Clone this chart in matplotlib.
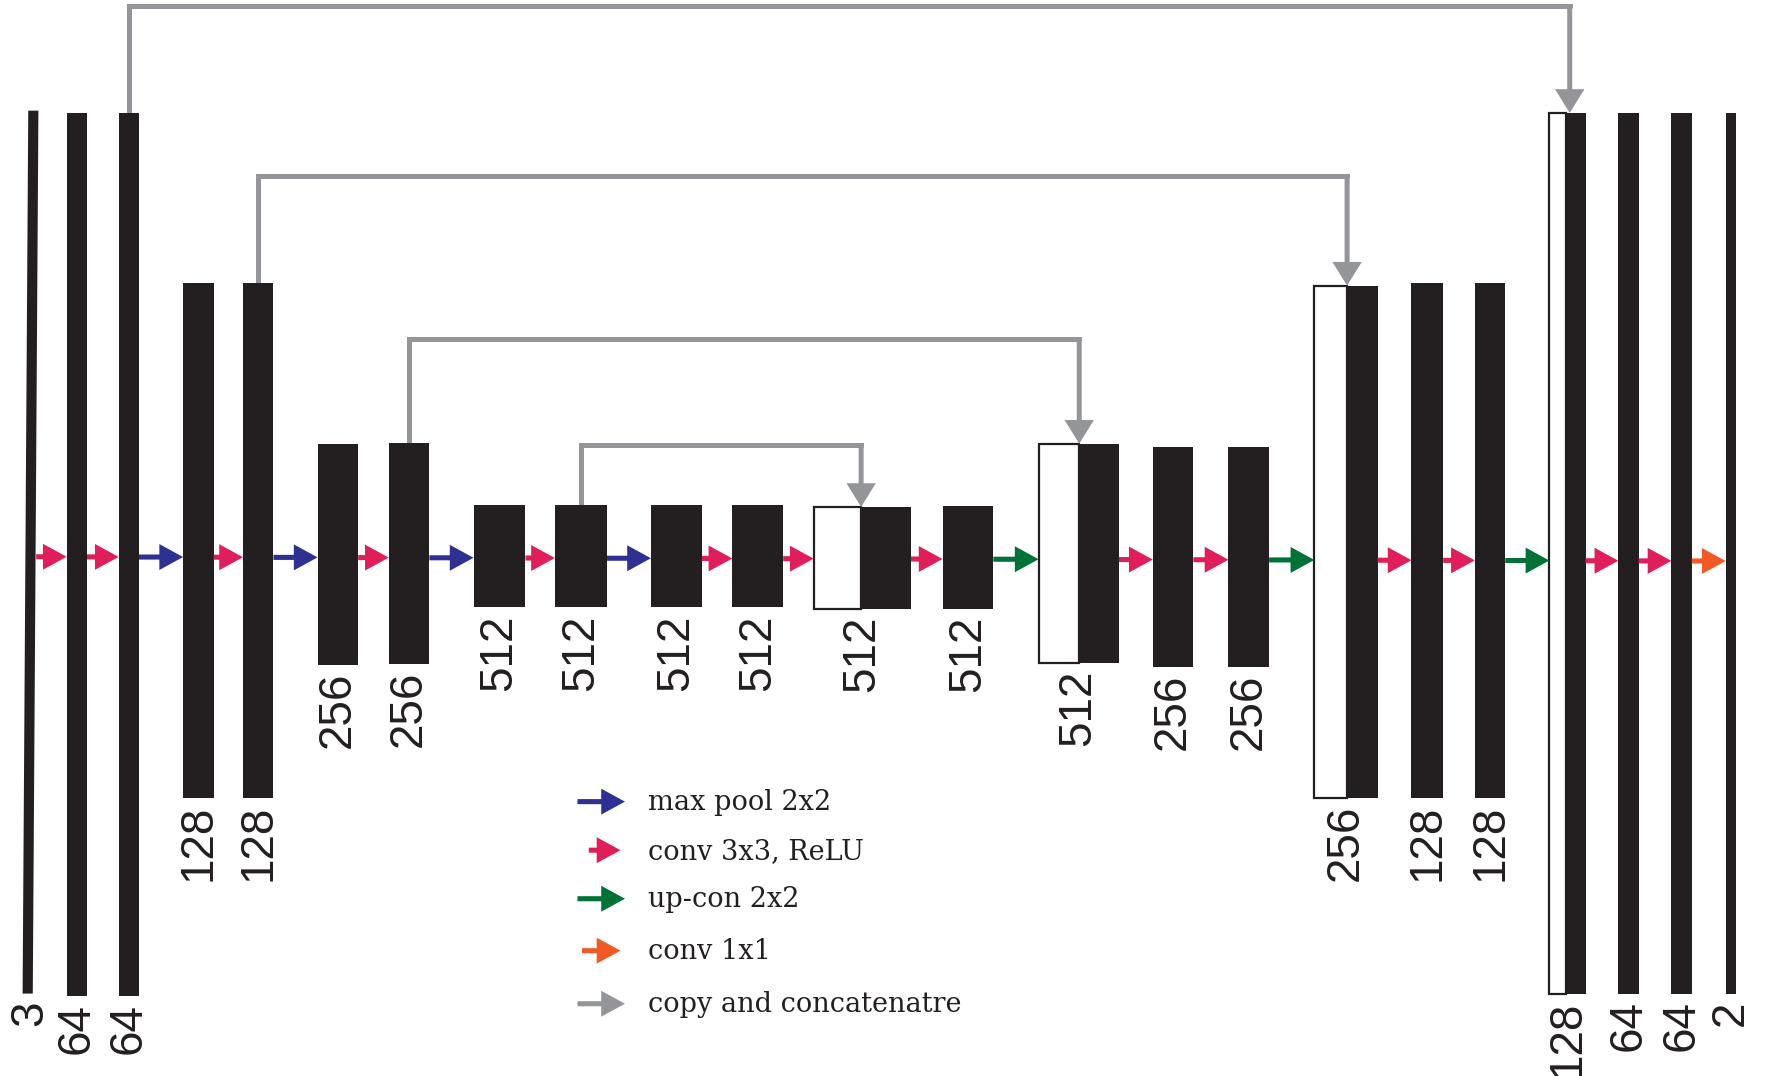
import matplotlib
matplotlib.use("Agg")
import matplotlib.pyplot as plt
import matplotlib.patches as mpatches

# 채널 수 (블록 아래 라벨)
channels = ['3', '64', '64', '128', '128', '256', '256',
            '512', '512', '512', '512', '512', '512',
            '512', '256', '256', '256', '128', '128',
            '128', '64', '64', '2']

# 블록 사이 연산 종류
ops = ['conv', 'conv', 'pool', 'conv', 'pool', 'conv', 'pool', 'conv', 'pool',
       'conv', 'conv', 'conv', 'up', 'conv', 'conv', 'up', 'conv', 'conv', 'up',
       'conv', 'conv', 'conv1']

# skip connection (출발 블록, 도착 블록)
skips = [(2, 19), (4, 16), (6, 13), (8, 11)]

legend_ops = ['pool', 'conv', 'up', 'conv1', 'copy']
legend_text = ['max pool 2x2', 'conv 3x3, ReLU', 'up-con 2x2', 'conv 1x1',
               'copy and concatenatre']

# 레이아웃 (x 시작, 흰 부분 폭, 검은 부분 폭, 위, 아래)
blocks = [
    (25, 0, 9, 98, 880), (59, 0, 18, 100, 882), (105, 0, 18, 100, 882),
    (162, 0, 27, 251, 707), (215, 0, 27, 251, 707),
    (281, 0, 36, 393, 589), (344, 0, 36, 392, 588),
    (419, 0, 46, 447, 538), (491, 0, 46, 447, 538),
    (576, 0, 45, 447, 538), (648, 0, 45, 447, 538),
    (720, 42, 44, 449, 539), (834, 0, 45, 448, 539),
    (919, 36, 35, 393, 587), (1020, 0, 36, 396, 591), (1087, 0, 36, 396, 591),
    (1163, 29, 27, 253, 707), (1249, 0, 28, 251, 707), (1305, 0, 27, 251, 707),
    (1371, 15, 17, 100, 880), (1432, 0, 18, 100, 880), (1479, 0, 18, 100, 880),
    (1527, 0, 9, 100, 880),
]
skip_levels = [5, 156, 300, 394]

colors = {'pool': '#2e3192', 'conv': '#e01e5a', 'up': '#007236',
          'conv1': '#f15a24', 'copy': '#939598'}
bar_color = '#231f20'


def mid_y(x):
    # 가운데 화살표 줄이 오른쪽으로 갈수록 살짝 내려감
    return 493 + 4 * x / 1560


fig = plt.figure(figsize=(17.72, 10.76), dpi=100)
ax = fig.add_axes([0, 0, 1, 1])
ax.set_xlim(0, 1568)
ax.set_ylim(953, 0)
ax.axis('off')

label_font = ['Liberation Sans Narrow', 'Liberation Sans', 'DejaVu Sans']

for i, (x0, ww, bw, top, bot) in enumerate(blocks):
    h = bot - top
    if i == 0:
        # 입력 블록은 약간 기울어져 있음
        ax.add_patch(mpatches.Polygon([(x0, top), (x0 + bw, top), (x0 + bw - 5, bot),
                                       (x0 - 5, bot)], closed=True,
                                      facecolor=bar_color, edgecolor='none', zorder=3))
        cx = x0 - 3 + bw / 2
    else:
        if ww > 0:
            ax.add_patch(mpatches.Rectangle((x0, top), ww, h, facecolor='white',
                                            edgecolor=bar_color, linewidth=1.6, zorder=2))
        ax.add_patch(mpatches.Rectangle((x0 + ww, top), bw, h, facecolor=bar_color,
                                        edgecolor='none', zorder=3))
        cx = x0 + (ww + bw) / 2
    ax.text(cx, bot + 6, channels[i], rotation=90, ha='center', va='top',
            fontsize=33, family=label_font, color=bar_color)


def arrow(x1, x2, y, kind):
    ax.add_patch(mpatches.FancyArrow(x1, y, x2 - x1, 0, width=4.5, head_width=23,
                                     head_length=21, length_includes_head=True,
                                     color=colors[kind], linewidth=0, zorder=4))


for i, op in enumerate(ops):
    x0, ww, bw, top, bot = blocks[i]
    x1 = x0 + ww + bw - (2 if i == 0 else 0)
    x_next = blocks[i + 1][0]
    arrow(x1, x_next, mid_y((x1 + x_next) / 2), op)

# copy and concatenate
for (s, t), lvl in zip(skips, skip_levels):
    sx0, sww, sbw, stop, _ = blocks[s]
    tx0, tww, tbw, ttop, _ = blocks[t]
    sx = sx0 + (sww + sbw) / 2
    tx = tx0 + tww + (3 if t == 19 else 0)
    ax.plot([sx, sx, tx, tx], [stop, lvl, lvl, lvl + 2], color=colors['copy'],
            linewidth=3.6, solid_joinstyle='miter', solid_capstyle='butt', zorder=1)
    ax.add_patch(mpatches.FancyArrow(tx, lvl, 0, ttop - lvl, width=4.4, head_width=26,
                                     head_length=21, length_includes_head=True,
                                     color=colors['copy'], linewidth=0, zorder=5))

# 범례
leg_y = [710, 753, 796, 842, 889]
leg_x = [(511, 553), (521, 549), (511, 553), (515, 549), (511, 553)]
for op, txt, y, (xa, xb) in zip(legend_ops, legend_text, leg_y, leg_x):
    arrow(xa, xb, y, op)
    ax.text(573, y + 1, txt, ha='left', va='center', fontsize=19.5,
            family='DejaVu Serif', color=bar_color)

fig.savefig('out.png', dpi=100)
